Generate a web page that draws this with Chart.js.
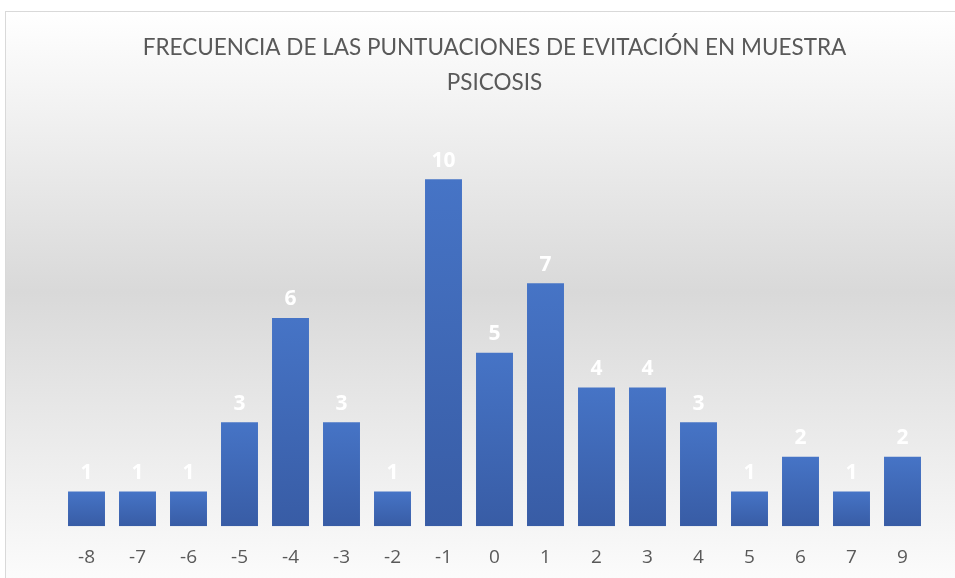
<!DOCTYPE html>
<html>
<head>
<meta charset="utf-8">
<script src="https://cdn.jsdelivr.net/npm/chart.js@4"></script>
<style>
  html, body { margin: 0; padding: 0; overflow: hidden; background: #fff; }
  #wrap {
    position: absolute; left: 5px; top: 11px; width: 960px; height: 595px;
    border: 1px solid #d9d9d9;
    background: linear-gradient(to bottom, #ffffff 0%, #d9d9d9 47%, #ffffff 100%);
  }
  #chart { position: absolute; left: 0; top: 0; }
</style>
</head>
<body>
<div id="wrap"><canvas id="chart" width="950" height="586"></canvas></div>
<script>
// Frecuencia de puntuaciones de evitación, muestra psicosis
const TITLE = ['FRECUENCIA DE LAS PUNTUACIONES DE EVITACIÓN EN MUESTRA', 'PSICOSIS'];
const SCORES = ['-8', '-7', '-6', '-5', '-4', '-3', '-2', '-1', '0', '1', '2', '3', '4', '5', '6', '7', '9'];
const FREQ   = [1, 1, 1, 3, 6, 3, 1, 10, 5, 7, 4, 4, 3, 1, 2, 1, 2];

const BAR_TOP = '#4674c6';
const BAR_BOT = '#385ca5';

function barFill(ctx) {
  const chart = ctx.chart;
  const y = chart.scales.y;
  if (!y || ctx.raw == null) return BAR_TOP;
  const top = y.getPixelForValue(ctx.raw);
  const bot = y.getPixelForValue(0);
  if (!isFinite(top) || !isFinite(bot) || top === bot) return BAR_TOP;
  const g = chart.ctx.createLinearGradient(0, top, 0, bot);
  g.addColorStop(0, BAR_TOP);
  g.addColorStop(1, BAR_BOT);
  return g;
}

// white bold values above each bar
const valueLabels = {
  id: 'valueLabels',
  afterDatasetsDraw(chart) {
    const c = chart.ctx;
    const meta = chart.getDatasetMeta(0);
    c.save();
    c.fillStyle = '#ffffff';
    c.font = 'bold 21px "Open Sans", sans-serif';
    c.textAlign = 'center';
    c.textBaseline = 'bottom';
    meta.data.forEach((bar, i) => {
      c.fillText(String(FREQ[i]), bar.x, bar.y - 8);
    });
    c.restore();
  },
};

new Chart(document.getElementById('chart'), {
  type: 'bar',
  data: {
    labels: SCORES,
    datasets: [{
      data: FREQ,
      backgroundColor: barFill,
      borderWidth: 0,
      barPercentage: 0.725,
      categoryPercentage: 1.0,
    }],
  },
  options: {
    responsive: false,
    animation: false,
    layout: { padding: { left: 55, right: 28, top: 0, bottom: 10 } },
    plugins: {
      legend: { display: false },
      tooltip: { enabled: false },
      title: {
        display: true,
        text: TITLE,
        color: '#595959',
        font: { family: 'Lato', size: 22.5, weight: '400', lineHeight: 1.55 },
        padding: { top: 18, bottom: 10 },
      },
    },
    scales: {
      x: {
        grid: { display: false, drawTicks: false },
        border: { display: false },
        ticks: { color: '#595959', font: { family: 'Open Sans', size: 19, lineHeight: 1.25 }, padding: 19 },
      },
      y: {
        display: false,
        min: 0,
        max: 12,
      },
    },
  },
  plugins: [valueLabels],
});
</script>
</body>
</html>
